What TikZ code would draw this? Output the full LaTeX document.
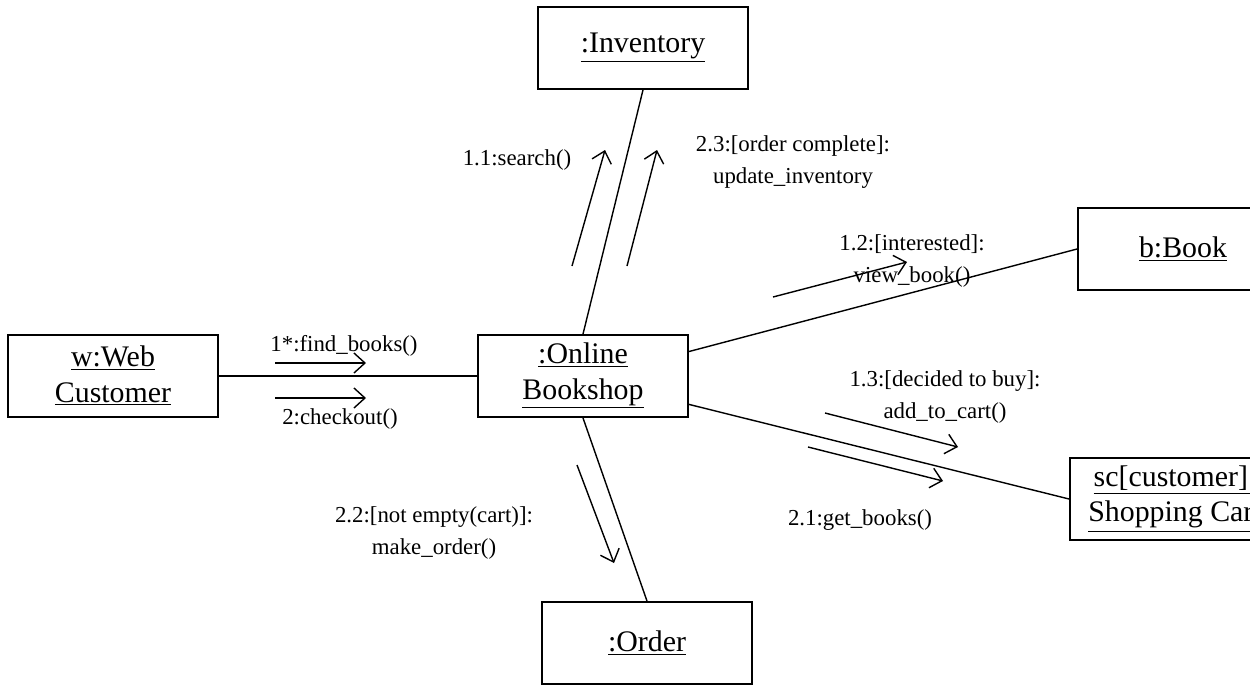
\documentclass[tikz,border=0pt]{standalone}
\usepackage{fontspec}
\setmainfont{Liberation Serif}
\usetikzlibrary{arrows.meta}

\tikzset{
  obj/.style={draw, line width=1.1pt, rectangle, minimum width=4.2cm, minimum height=1.64cm,
    align=center, font=\fontsize{17}{20}\selectfont},
  link/.style={thick},
  msg/.style={thick, -{Straight Barb[length=2.2mm, width=4mm]}},
  lbl/.style={align=center, font=\fontsize{13}{18}\selectfont},
}

\begin{document}
\begin{tikzpicture}[x=0.02cm, y=-0.02cm]
			\clip (0,0) rectangle (1250,687);

			% Objects
			\node[obj] (web) at (113,376) {\underline{w:Web}\\\underline{Customer}};
			\node[obj] (shop) at (583,376) {\underline{:Online}\\\underline{Bookshop}};
			\node[obj] (inv) at (643,48) {\underline{:Inventory}};
			\node[obj] (book) at (1183,249) {\underline{b:Book}};
			\node[obj] (cart) at (1175,499) {\underline{sc[customer]:}\\\underline{Shopping Cart}};
			\node[obj] (order) at (647,643) {\underline{:Order}};

			% Links
			\draw[link] (web) -- (shop);
			\draw[link] (shop.north) -- (inv.south);
			\draw[link] (shop.13) -- (book.west);
			\draw[link] (shop.-15) -- (cart.west);
			\draw[link] (shop.south) -- (order.north);

			% Message ends
			\coordinate (m1a) at (275,363); \coordinate (m1b) at (366,363);
			\coordinate (m2a) at (275,398); \coordinate (m2b) at (366,398);
			\coordinate (m3a) at (572,266); \coordinate (m3b) at (605,150);
			\coordinate (m4a) at (627,266); \coordinate (m4b) at (657,150);
			\coordinate (m5a) at (773,297); \coordinate (m5b) at (907,262);
			\coordinate (m6a) at (825,413); \coordinate (m6b) at (958,447);
			\coordinate (m7a) at (808,447); \coordinate (m7b) at (943,481);
			\coordinate (m8a) at (577,465); \coordinate (m8b) at (614,563);

			% Messages
			\draw[msg] (m1a) -- (m1b);
			\draw[msg] (m2a) -- (m2b);
			\draw[msg] (m3a) -- (m3b);
			\draw[msg] (m4a) -- (m4b);
			\draw[msg] (m5a) -- (m5b);
			\draw[msg] (m6a) -- (m6b);
			\draw[msg] (m7a) -- (m7b);
			\draw[msg] (m8a) -- (m8b);

			% Labels
			\node[lbl] (l1) at (344,346) {1*:find\_books()};
			\node[lbl] (l2) at (340,419) {2:checkout()};
			\node[lbl] (l3) at (517,160) {1.1:search()};
			\node[lbl] (l4) at (793,162) {2.3:[order complete]:\\update\_inventory};
			\node[lbl] (l5) at (912,261) {1.2:[interested]:\\view\_book()};
			\node[lbl] (l6) at (945,397) {1.3:[decided to buy]:\\add\_to\_cart()};
			\node[lbl] (l7) at (860,520) {2.1:get\_books()};
			\node[lbl] (l8) at (434,533) {2.2:[not empty(cart)]:\\make\_order()};
		\end{tikzpicture}
\end{document}
